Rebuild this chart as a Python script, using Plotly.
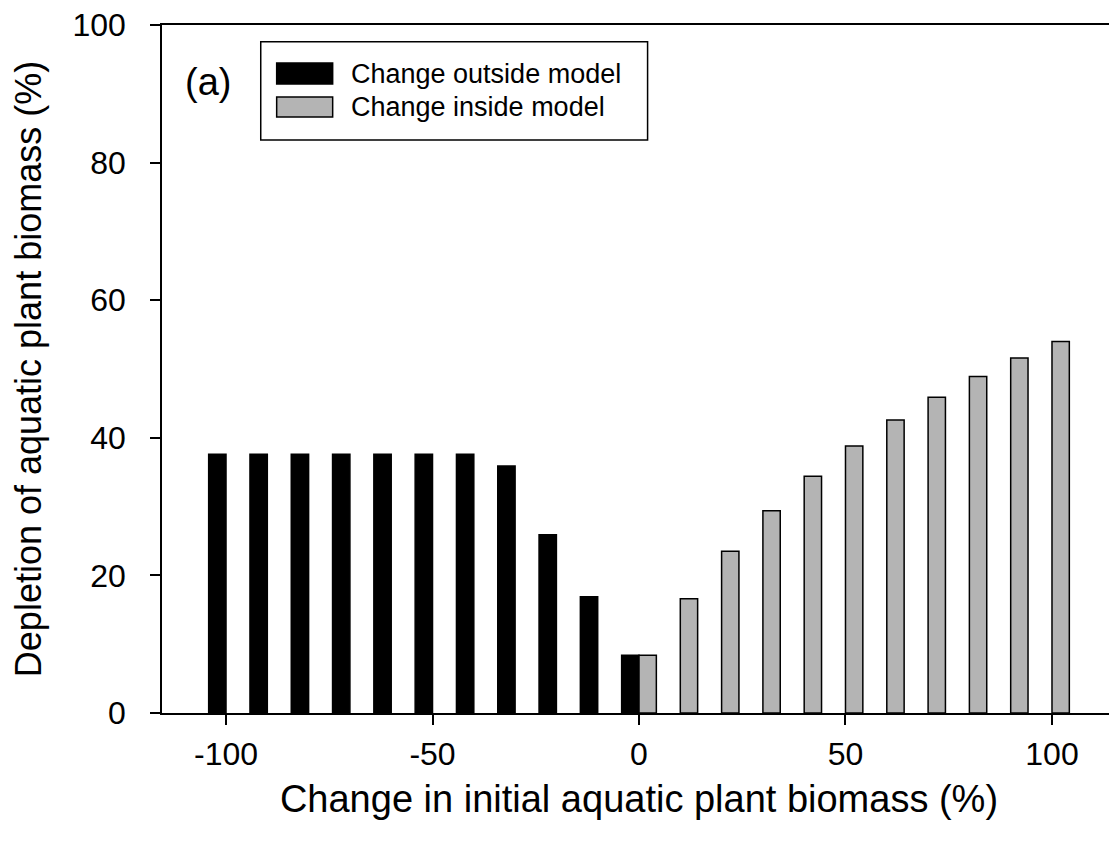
import plotly.graph_objects as go

# Data
outside_x = [-100, -90, -80, -70, -60, -50, -40, -30, -20, -10, 0]
outside_y = [37.6, 37.6, 37.6, 37.6, 37.6, 37.6, 37.6, 35.9, 25.9, 16.9, 8.4]
inside_x = [0, 10, 20, 30, 40, 50, 60, 70, 80, 90, 100]
inside_y = [8.4, 16.6, 23.5, 29.4, 34.4, 38.8, 42.6, 45.9, 48.9, 51.6, 54.0]
x_ticks = [-100, -50, 0, 50, 100]
y_ticks = [0, 20, 40, 60, 80, 100]
series_names = ["Change outside model", "Change inside model"]

FONT = "Liberation Sans, Arial, sans-serif"
BAR_W = 4.2

fig = go.Figure()
fig.add_trace(go.Bar(
    x=outside_x, y=outside_y, name=series_names[0],
    width=BAR_W, offset=-BAR_W,
    marker=dict(color="#000000", line=dict(color="#000000", width=1.5)),
))
fig.add_trace(go.Bar(
    x=inside_x, y=inside_y, name=series_names[1],
    width=BAR_W, offset=0,
    marker=dict(color="#b4b4b4", line=dict(color="#000000", width=1.5)),
))

# Legend drawn as box + swatches + text (paper coords)
shapes = [
    dict(type="rect", xref="paper", yref="paper", x0=0.1035, x1=0.509, y0=0.8328, y1=0.9757,
         line=dict(color="black", width=1.5), fillcolor="white", layer="above"),
    dict(type="rect", xref="paper", yref="paper", x0=0.1202, x1=0.1789, y0=0.9142, y1=0.9448,
         line=dict(color="black", width=1.5), fillcolor="#000000", layer="above"),
    dict(type="rect", xref="paper", yref="paper", x0=0.1202, x1=0.1789, y0=0.8663, y1=0.8953,
         line=dict(color="black", width=1.5), fillcolor="#b4b4b4", layer="above"),
]
annotations = [
    dict(text=series_names[0], xref="paper", yref="paper", x=0.196, y=0.9295,
         xanchor="left", yanchor="middle", showarrow=False, font=dict(size=27, color="black", family=FONT)),
    dict(text=series_names[1], xref="paper", yref="paper", x=0.196, y=0.8808,
         xanchor="left", yanchor="middle", showarrow=False, font=dict(size=27, color="black", family=FONT)),
    dict(text="(a)", xref="paper", yref="paper", x=0.0485, y=0.917,
         xanchor="center", yanchor="middle", showarrow=False, font=dict(size=38, color="black", family=FONT)),
]

# The page body has an 8px default margin; size/margins compensate for it
fig.update_layout(
    width=1109, height=835,
    margin=dict(l=154, r=1, t=17, b=130),
    paper_bgcolor="white", plot_bgcolor="white",
    barmode="overlay", showlegend=False,
    font=dict(family=FONT, color="black"),
    shapes=shapes, annotations=annotations,
    xaxis=dict(
        range=[-115.5, 115.5], tickvals=x_ticks, ticktext=[str(v) for v in x_ticks],
        showgrid=False, zeroline=False, showline=True, linecolor="black", linewidth=1.5,
        mirror=True, ticks="outside", ticklen=10, tickwidth=1.5, tickcolor="black",
        tickfont=dict(size=32, family=FONT), ticklabelstandoff=2, automargin=False,
        ticklabeloverflow="allow",
        title=dict(text="Change in initial aquatic plant biomass (%)", font=dict(size=38, family=FONT), standoff=14),
    ),
    yaxis=dict(
        range=[0, 100], tickvals=y_ticks, ticktext=[str(v) for v in y_ticks],
        showgrid=False, zeroline=False, showline=True, linecolor="black", linewidth=1.5,
        mirror=True, ticks="outside", ticklen=10, tickwidth=1.5, tickcolor="black",
        tickfont=dict(size=32, family=FONT), ticklabelstandoff=18, automargin=False,
        ticklabeloverflow="allow",
        title=dict(text="Depletion of aquatic plant biomass (%)", font=dict(size=36, family=FONT), standoff=22),
    ),
)

fig.write_html("out.html")
